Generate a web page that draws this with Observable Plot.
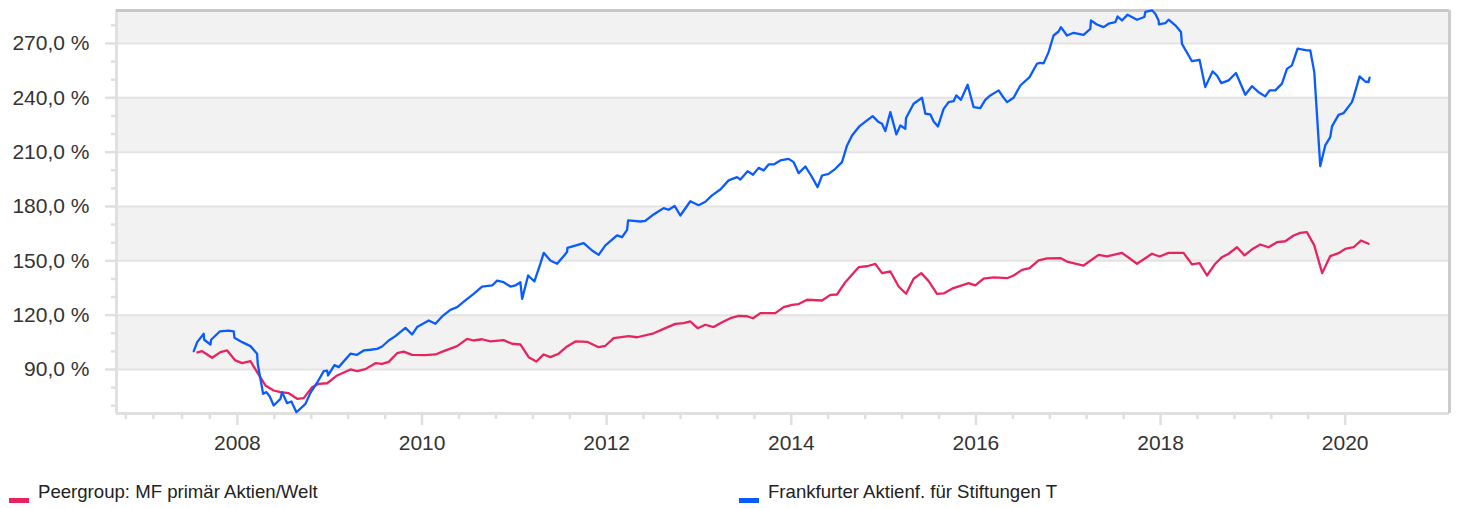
<!DOCTYPE html>
<html>
<head>
<meta charset="utf-8">
<script src="https://cdn.jsdelivr.net/npm/d3@7"></script>
<script src="https://cdn.jsdelivr.net/npm/@observablehq/plot@0.6"></script>
<style>
  body { margin: 0; background: #fff; font-family: "Liberation Sans", Arial, sans-serif; }
  #wrap { position: relative; width: 1460px; height: 508px; overflow: hidden; }
  .leg { position: absolute; top: 482px; font-size: 18.6px; line-height: 20px; color: #222; white-space: nowrap; }
  .sw { position: absolute; top: 498px; width: 20px; height: 5px; }
</style>
</head>
<body>
<div id="wrap">
  <div id="chart"></div>
  <div class="sw" style="left:9px;background:#e8245e"></div>
  <div class="leg" id="leg0" style="left:38px"></div>
  <div class="sw" style="left:739px;background:#0a5cff"></div>
  <div class="leg" id="leg1" style="left:768px"></div>
</div>
<script>
// ---- series names ----
const seriesNames = ["Peergroup: MF primär Aktien/Welt", "Frankfurter Aktienf. für Stiftungen T"];
const seriesColors = ["#e8245e", "#0a5cff"];

// ---- Peergroup (red) ----
const peerYears = [2007.567,2007.618,2007.726,2007.816,2007.888,2007.978,2008.051,2008.141,2008.213,2008.303,2008.393,2008.466,2008.556,2008.647,2008.718,2008.809,2008.881,2008.972,2009.080,2009.224,2009.296,2009.386,2009.495,2009.567,2009.639,2009.730,2009.801,2009.892,2010.036,2010.145,2010.234,2010.380,2010.488,2010.559,2010.650,2010.740,2010.884,2010.975,2011.065,2011.155,2011.238,2011.318,2011.390,2011.480,2011.571,2011.661,2011.788,2011.913,2011.986,2012.076,2012.238,2012.329,2012.509,2012.617,2012.744,2012.834,2012.906,2012.985,2013.069,2013.159,2013.250,2013.340,2013.430,2013.520,2013.585,2013.665,2013.827,2013.917,2014.008,2014.080,2014.170,2014.333,2014.423,2014.495,2014.585,2014.729,2014.820,2014.910,2014.983,2015.073,2015.163,2015.243,2015.325,2015.408,2015.488,2015.578,2015.650,2015.741,2015.921,2015.993,2016.083,2016.192,2016.337,2016.408,2016.499,2016.581,2016.679,2016.770,2016.914,2016.986,2017.166,2017.329,2017.420,2017.582,2017.745,2017.907,2017.989,2018.087,2018.249,2018.340,2018.422,2018.503,2018.593,2018.665,2018.737,2018.828,2018.910,2019.001,2019.080,2019.170,2019.261,2019.351,2019.441,2019.513,2019.586,2019.665,2019.751,2019.838,2019.928,2020.000,2020.091,2020.171,2020.253];
const peerValues = [99.4,100.1,96.5,99.6,100.5,95.0,93.5,94.6,88.5,81.2,78.4,77.5,76.9,73.8,74.2,80.2,82.1,82.4,86.7,90.0,89.1,90.2,93.5,93.1,94.2,99.0,99.9,98.1,97.9,98.3,100.1,102.9,106.9,106.0,106.7,105.5,106.2,104.2,103.8,96.8,94.4,98.3,96.8,98.7,102.7,105.5,105.3,102.3,103.1,107.3,108.4,107.8,110.0,112.4,115.2,115.6,116.5,112.8,114.7,113.4,116.1,118.3,119.6,119.4,118.3,121.1,121.1,124.4,125.7,126.1,128.5,128.1,131.2,131.4,138.2,146.5,147.0,148.3,143.2,144.1,135.8,131.8,140.1,143.2,138.8,131.8,132.0,134.6,137.7,136.4,140.2,140.8,140.4,141.9,145.0,145.9,150.2,151.3,151.5,149.6,147.4,153.3,152.4,154.4,148.4,153.9,152.4,154.4,154.4,148.0,148.7,141.9,148.4,152.0,153.9,157.5,153.0,156.7,159.0,157.5,160.3,160.8,164.0,165.4,165.8,158.5,143.2,152.6,154.2,156.6,157.5,161.2,159.4];

// ---- Fund (blue) ----
const fundYears = [2007.527,2007.564,2007.635,2007.640,2007.708,2007.715,2007.808,2007.906,2007.960,2007.968,2008.051,2008.141,2008.213,2008.220,2008.278,2008.314,2008.350,2008.393,2008.466,2008.484,2008.538,2008.585,2008.639,2008.737,2008.791,2008.863,2008.935,2008.972,2008.982,2009.051,2009.097,2009.224,2009.296,2009.368,2009.441,2009.513,2009.567,2009.639,2009.711,2009.820,2009.892,2009.946,2010.072,2010.145,2010.217,2010.307,2010.380,2010.469,2010.559,2010.650,2010.759,2010.813,2010.884,2010.957,2011.011,2011.065,2011.084,2011.149,2011.217,2011.282,2011.318,2011.390,2011.463,2011.571,2011.575,2011.751,2011.842,2011.913,2011.986,2012.112,2012.167,2012.221,2012.232,2012.365,2012.419,2012.509,2012.563,2012.617,2012.671,2012.736,2012.798,2012.906,2012.996,2013.069,2013.141,2013.231,2013.321,2013.412,2013.448,2013.527,2013.585,2013.646,2013.700,2013.754,2013.809,2013.881,2013.971,2014.025,2014.080,2014.152,2014.214,2014.285,2014.333,2014.404,2014.477,2014.549,2014.604,2014.658,2014.740,2014.820,2014.881,2014.946,2014.983,2015.018,2015.073,2015.138,2015.181,2015.235,2015.243,2015.325,2015.416,2015.452,2015.506,2015.542,2015.589,2015.650,2015.704,2015.758,2015.787,2015.838,2015.910,2015.975,2016.047,2016.101,2016.156,2016.246,2016.282,2016.337,2016.408,2016.481,2016.581,2016.661,2016.693,2016.733,2016.787,2016.841,2016.895,2016.921,2016.986,2017.058,2017.166,2017.239,2017.246,2017.311,2017.383,2017.437,2017.510,2017.535,2017.582,2017.643,2017.745,2017.824,2017.835,2017.907,2017.943,2017.979,2017.982,2018.051,2018.087,2018.160,2018.221,2018.232,2018.340,2018.422,2018.484,2018.563,2018.611,2018.658,2018.737,2018.817,2018.918,2018.990,2019.062,2019.134,2019.181,2019.243,2019.315,2019.369,2019.423,2019.484,2019.586,2019.622,2019.665,2019.730,2019.784,2019.838,2019.857,2019.928,2019.982,2020.073,2020.091,2020.156,2020.217,2020.253,2020.264];
const fundValues = [100.1,105.1,109.7,106.4,103.8,106.4,111.0,111.5,111.1,107.5,105.1,102.9,98.7,93.1,76.6,77.5,75.1,70.1,73.8,77.5,71.4,72.3,66.4,71.0,77.1,82.7,89.1,89.4,86.7,92.4,91.3,98.7,98.1,100.5,100.9,101.4,102.7,106.0,108.4,113.0,109.3,113.4,117.1,115.2,119.3,122.9,124.4,128.1,131.8,135.8,136.4,139.1,138.2,135.8,136.4,138.2,129.0,141.9,138.6,148.4,154.4,150.2,148.4,154.8,157.2,159.8,155.7,153.3,158.5,164.0,163.1,167.1,172.3,171.7,172.1,175.6,177.4,179.1,178.2,180.3,175.0,182.9,180.7,182.6,186.1,189.4,194.4,196.2,194.9,199.5,197.5,201.3,199.9,203.2,203.2,205.4,206.3,204.5,198.4,202.1,197.1,190.7,197.1,198.0,200.8,204.5,213.7,219.2,224.4,227.5,229.9,226.6,225.7,221.6,232.1,219.8,224.7,222.9,228.8,236.7,240.0,231.2,230.8,226.9,224.2,233.9,237.6,238.1,241.3,238.9,247.2,234.8,234.3,238.9,241.3,244.1,241.3,237.6,240.0,246.8,251.4,258.8,259.3,259.0,265.2,274.4,276.6,279.0,274.4,275.9,274.8,278.1,282.7,280.5,279.0,280.9,281.8,284.9,282.7,285.9,283.1,284.6,287.4,288.3,286.4,282.7,280.5,281.2,283.1,280.0,276.3,269.8,260.2,261.0,245.9,254.6,252.3,248.1,249.6,253.7,241.7,246.4,243.1,240.8,244.1,244.1,247.8,256.0,257.9,267.1,266.2,266.2,254.2,202.3,213.7,218.3,224.2,230.6,231.5,237.6,240.4,251.8,249.0,248.7,251.1];

// ---- axes ----
const xDomain = [2006.69, 2021.13];
const yDomain = [65.7, 288.2];
const yTicks = [90, 120, 150, 180, 210, 240, 270];
const yMinorTicks = [70, 80, 100, 110, 130, 140, 160, 170, 190, 200, 220, 230, 250, 260, 280];
const xTicks = [2008, 2010, 2012, 2014, 2016, 2018, 2020];
const xMinorFirst = [2006.79, 2007.09, 2007.40, 2007.70];
const xMinorOffsets = [0.4, 0.8, 1.2, 1.6];
const bandLow = [90, 150, 210, 270];
const bandHigh = [120, 180, 240, 288.2];

const xMinorTicks = xMinorFirst.concat(
  xTicks.slice(0, -1).flatMap(y => xMinorOffsets.map(o => +(y + o).toFixed(2)))
);

const peer = peerYears.map((y, i) => ({year: y, value: peerValues[i]}));
const fund = fundYears.map((y, i) => ({year: y, value: fundValues[i]}));
const bands = bandLow.map((lo, i) => ({lo, hi: bandHigh[i]}));

const fmtY = d => d.toFixed(1).replace(".", ",") + " %";
const axisGray = "#e0e0e0";

const chart = Plot.plot({
  width: 1460,
  height: 462,
  marginLeft: 116,
  marginRight: 11,
  marginTop: 10,
  marginBottom: 49,
  style: {fontFamily: "'Liberation Sans', Arial, sans-serif", fontSize: "21px", color: "#333", background: "#fff", overflow: "visible"},
  x: {type: "linear", domain: xDomain, label: null},
  y: {domain: yDomain, label: null},
  marks: [
    Plot.rect(bands, {x1: xDomain[0], x2: xDomain[1], y1: "lo", y2: "hi", fill: "#f2f2f2"}),
    Plot.ruleY(yTicks, {stroke: "#e3e3e3", strokeWidth: 2}),
    Plot.axisY(yTicks, {tickSize: 11, tickPadding: 16, tickFormat: fmtY, stroke: axisGray, strokeWidth: 2.5, fill: "#333", fontSize: 21, label: null}),
    Plot.axisY(yMinorTicks, {tickSize: 5, tickFormat: () => "", stroke: axisGray, strokeWidth: 2.5, label: null}),
    Plot.axisX(xTicks, {tickSize: 12, tickPadding: 10, tickFormat: d => String(d), stroke: axisGray, strokeWidth: 2.5, fill: "#333", fontSize: 21, label: null}),
    Plot.axisX(xMinorTicks, {tickSize: 6, tickFormat: () => "", stroke: axisGray, strokeWidth: 2.5, label: null}),
    Plot.ruleY([yDomain[0]], {stroke: axisGray, strokeWidth: 3}),
    Plot.ruleX([xDomain[0]], {stroke: axisGray, strokeWidth: 3}),
    Plot.ruleY([yDomain[1]], {stroke: "#c8c8c8", strokeWidth: 3}),
    Plot.ruleX([xDomain[1]], {stroke: "#cccccc", strokeWidth: 3}),
    Plot.line(peer, {x: "year", y: "value", stroke: seriesColors[0], strokeWidth: 2.3}),
    Plot.line(fund, {x: "year", y: "value", stroke: seriesColors[1], strokeWidth: 2.3})
  ]
});
document.getElementById("chart").appendChild(chart);
document.getElementById("leg0").textContent = seriesNames[0];
document.getElementById("leg1").textContent = seriesNames[1];
</script>
</body>
</html>
